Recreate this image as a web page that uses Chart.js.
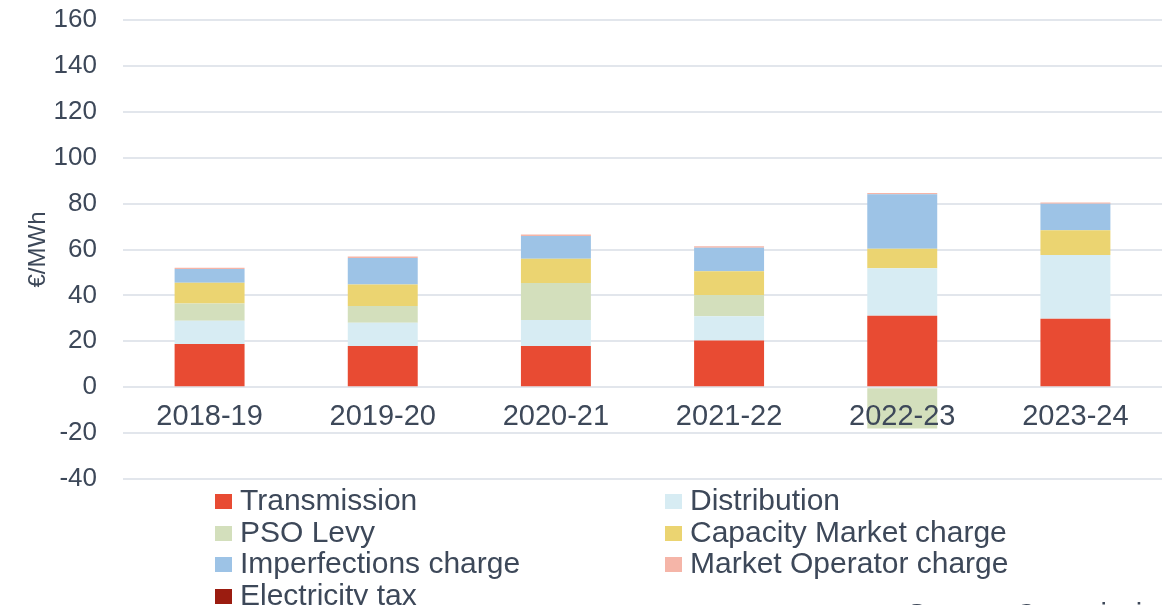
<!DOCTYPE html>
<html>
<head>
<meta charset="utf-8">
<script src="https://cdn.jsdelivr.net/npm/chart.js@4"></script>
<style>
  html, body { margin: 0; padding: 0; background: #fff; overflow: hidden; }
  #wrap { position: relative; width: 1166px; height: 605px; }
  #legend { position: absolute; left: 215px; top: 484px; width: 900px;
            font-family: "Liberation Sans", Arial, sans-serif; font-size: 30px; color: #3d4859; }
  .item { position: absolute; display: flex; align-items: center; white-space: nowrap; height: 32px; }
  .box { width: 17px; height: 15px; margin-right: 8px; margin-top: 3px; }
  #source { position: absolute; left: 907px; top: 598px; font-family: "Liberation Sans", Arial, sans-serif;
            font-size: 29px; color: #3d4859; white-space: nowrap; }
</style>
</head>
<body>
<div id="wrap">
  <canvas id="chart" width="1166" height="605"></canvas>
  <div id="legend"></div>
  <div id="source">Source: Commission for Regulation of Utilities</div>
</div>
<script>
const categories = ['2018-19', '2019-20', '2020-21', '2021-22', '2022-23', '2023-24'];
const transmission = [18.8, 18.0, 18.0, 20.4, 31.1, 29.8];
const distribution = [10.1, 10.1, 11.3, 10.5, 20.7, 27.8];
const psoLevy = [7.6, 7.3, 16.1, 9.3, -18.0, 0];
const capacityMarket = [9.0, 9.4, 10.6, 10.3, 8.5, 10.8];
const imperfections = [6.0, 11.5, 9.9, 10.3, 23.8, 11.5];
const marketOperator = [0.6, 0.6, 0.6, 0.6, 0.5, 0.6];
const electricityTax = [0, 0, 0, 0, 0, 0];

const textColor = '#3d4859';
const gridColor = '#e2e6ec';
const font = '"Liberation Sans", Arial, sans-serif';

const datasets = [
    { label: 'Transmission', data: transmission, backgroundColor: '#e84b33' },
    { label: 'Distribution', data: distribution, backgroundColor: '#d7ecf3' },
    { label: 'PSO Levy', data: psoLevy, backgroundColor: '#d3dfbc' },
    { label: 'Capacity Market charge', data: capacityMarket, backgroundColor: '#ebd471' },
    { label: 'Imperfections charge', data: imperfections, backgroundColor: '#9dc3e6' },
    { label: 'Market Operator charge', data: marketOperator, backgroundColor: '#f5b5a8' },
    { label: 'Electricity tax', data: electricityTax, backgroundColor: '#9b1c10' }
];

const chart = new Chart(document.getElementById('chart'), {
    type: 'bar',
    data: {
        labels: categories,
        datasets: datasets.map(d => Object.assign({ barPercentage: 0.404, categoryPercentage: 1, borderWidth: 0 }, d))
    },
    options: {
        responsive: false,
        animation: false,
        layout: { padding: { top: 20, bottom: 126, right: 4, left: 0 } },
        plugins: {
            legend: { display: false },
            tooltip: { enabled: false }
        },
        scales: {
            x: {
                stacked: true,
                position: { y: 0 },
                afterFit: function (scale) { scale.paddingTop = 0; scale.paddingBottom = 0; },
                grid: { display: false },
                border: { display: false },
                // labels sit on top of the negative bar
                ticks: { z: 1, color: textColor, font: { family: font, size: 29 }, padding: 4, maxRotation: 0 }
            },
            y: {
                stacked: true,
                min: -40,
                max: 160,
                afterFit: function (scale) {
                    scale.width = 123;
                    scale.paddingTop = 0;
                    scale.paddingBottom = 0;
                },
                grid: { color: gridColor, lineWidth: 2, drawTicks: false },
                border: { display: false },
                ticks: { stepSize: 20, color: textColor, font: { family: font, size: 26 }, padding: 26 },
                title: {
                    display: true,
                    text: '€/MWh',
                    color: textColor,
                    font: { family: font, size: 24 },
                    padding: { top: 24, bottom: 0 }
                }
            }
        }
    }
});

// two-column legend under the plot
const legendEl = document.getElementById('legend');
chart.data.datasets.forEach(function (ds, i) {
    const item = document.createElement('div');
    item.className = 'item';
    item.style.left = (i % 2 === 0 ? 0 : 450) + 'px';
    item.style.top = (Math.floor(i / 2) * 31.5) + 'px';
    const box = document.createElement('span');
    box.className = 'box';
    box.style.background = ds.backgroundColor;
    const txt = document.createElement('span');
    txt.textContent = ds.label;
    item.appendChild(box);
    item.appendChild(txt);
    legendEl.appendChild(item);
});
</script>
</body>
</html>
